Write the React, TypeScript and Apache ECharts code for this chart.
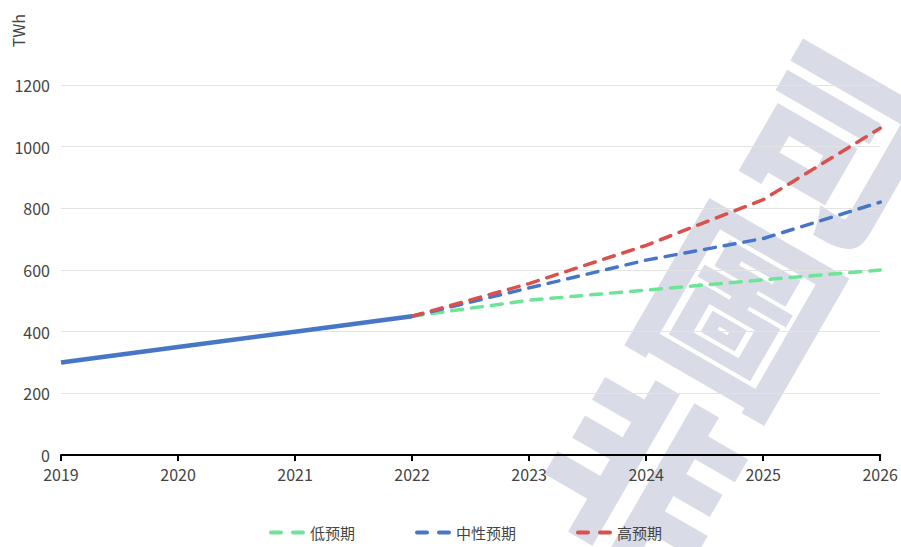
import React, { useEffect, useRef } from "react";
import * as echarts from "echarts";

const years = ["2019", "2020", "2021", "2022", "2023", "2024", "2025", "2026"];
const history = [300, 350, 400, 450, null, null, null, null];
const lowCase = [null, null, null, 450, 502, 535, 568, 600];
const midCase = [null, null, null, 450, 542, 632, 702, 820];
const highCase = [null, null, null, 450, 556, 680, 828, 1060];
const seriesNames = ["低预期", "中性预期", "高预期"];
const watermarkChars = ["司", "圖", "非"];

const FONT = "'Noto Sans CJK SC', 'Noto Sans', sans-serif";
const DASH_ICON = "path://M2,0h10a2,2,0,0,1,0,4h-10a2,2,0,0,1,0,-4z M24,0h10a2,2,0,0,1,0,4h-10a2,2,0,0,1,0,-4z";

export default function App() {
  const ref = useRef<HTMLDivElement>(null);
  useEffect(() => {
    if (!ref.current) return;
    const chart = echarts.init(ref.current, null, { renderer: "svg" });
    const dash = (color: string) => ({
      color,
      width: 3.5,
      type: [11, 9] as any,
      cap: "round" as any,
    });
    chart.setOption({
      animation: false,
      grid: { left: 61, right: 20, top: 85, bottom: 92 },
      legend: {
        data: seriesNames,
        left: 264,
        bottom: 2,
        itemGap: 60,
        itemWidth: 36,
        itemHeight: 4,
        icon: DASH_ICON,
        textStyle: { fontSize: 15, color: "#444", fontFamily: FONT },
      },
      xAxis: {
        type: "category",
        data: years,
        boundaryGap: false,
        axisLine: { lineStyle: { color: "#000", width: 2 } },
        axisTick: { lineStyle: { color: "#000", width: 2 }, length: 6 },
        axisLabel: { fontSize: 16, color: "#444", margin: 11, fontFamily: FONT },
      },
      yAxis: {
        type: "value",
        min: 0,
        max: 1200,
        interval: 200,
        axisLine: { show: false },
        axisTick: { show: false },
        axisLabel: {
          fontSize: 16,
          color: "#444",
          margin: 11,
          fontFamily: FONT,
          formatter: (v: number) => String(v),
        },
        splitLine: { lineStyle: { color: "#e3e3e3", width: 1 } },
      },
      series: [
        {
          name: seriesNames[0],
          type: "line",
          data: lowCase,
          symbol: "none",
          lineStyle: dash("#6de496"),
          itemStyle: { color: "#6de496" },
          z: 2,
        },
        {
          name: seriesNames[1],
          type: "line",
          data: midCase,
          symbol: "none",
          lineStyle: dash("#4776c6"),
          itemStyle: { color: "#4776c6" },
          z: 3,
        },
        {
          name: seriesNames[2],
          type: "line",
          data: highCase,
          symbol: "none",
          lineStyle: dash("#d9504c"),
          itemStyle: { color: "#d9504c" },
          z: 4,
        },
        {
          name: "历史",
          type: "line",
          data: history,
          symbol: "none",
          lineStyle: { color: "#4776c6", width: 4.5 },
          itemStyle: { color: "#4776c6" },
          z: 5,
        },
      ],
      graphic: [
        {
          type: "text",
          left: 10,
          top: 14,
          rotation: Math.PI / 2,
          style: {
            text: "TWh",
            fontSize: 16,
            fill: "#444",
            fontFamily: FONT,
          },
        },
        {
          type: "group",
          x: 743,
          y: 300,
          rotation: -Math.PI / 6,
          z: 100,
          silent: true,
          children: watermarkChars.map((ch, i) => ({
            type: "text",
            x: 0,
            y: (i - 1) * 190,
            style: {
              text: ch,
              fontSize: 185,
              fontWeight: 900,
              fontFamily: FONT,
              fill: "rgba(165,172,198,0.42)",
              align: "center",
              verticalAlign: "middle",
            },
          })),
        },
      ],
    });
    return () => chart.dispose();
  }, []);
  return <div ref={ref} style={{ width: 901, height: 547, position: "absolute", left: 0, top: 0 }} />;
}
